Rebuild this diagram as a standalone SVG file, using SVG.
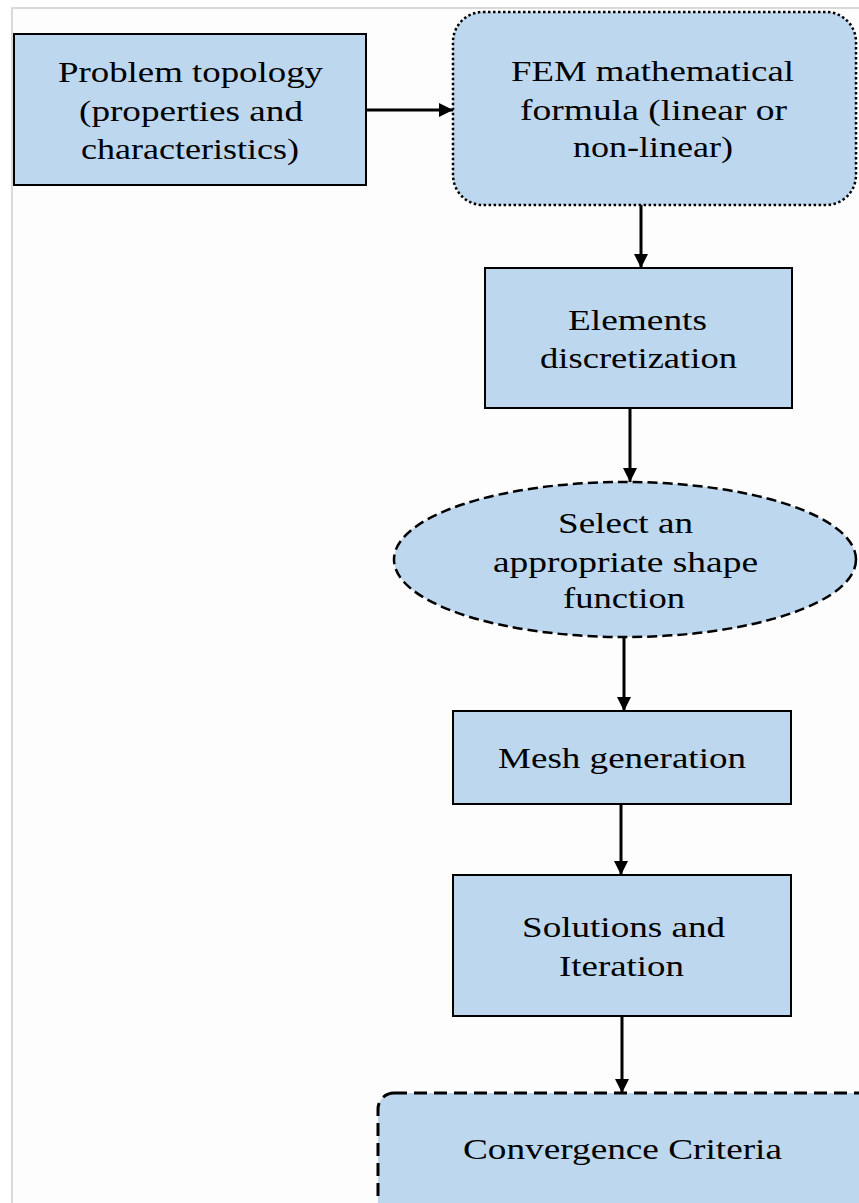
<svg xmlns="http://www.w3.org/2000/svg" width="859" height="1203" viewBox="0 0 859 1203">
<style>
.box{fill:#bdd7ee;stroke:#000;stroke-width:2}
.dot{stroke-dasharray:2.5 2.5;stroke-width:2.5}
.dash{stroke-dasharray:10 5;stroke-width:2.5}
.dash2{stroke-dasharray:13 7;stroke-width:3}
.t{font-family:"Liberation Serif","Times New Roman",serif;font-size:29px;fill:#000}
.c{stroke:#000;stroke-width:3;fill:none}
</style>
<defs>
<marker id="ah" markerUnits="userSpaceOnUse" markerWidth="14" markerHeight="14" viewBox="0 0 14 14" refX="14" refY="7" orient="auto">
<path d="M0,0 L14,7 L0,14 Z" fill="#000"/>
</marker>
</defs>
<rect x="0" y="0" width="859" height="1203" fill="#fff"/>
<rect id="frame" x="12" y="8" width="900" height="1250" fill="#fdfdfd" stroke="#d9d9d9" stroke-width="2"/>
<g id="connectors">
<line class="c" x1="366" y1="110" x2="453" y2="110" marker-end="url(#ah)"/>
<line class="c" x1="641" y1="205" x2="641" y2="268" marker-end="url(#ah)"/>
<line class="c" x1="630" y1="408" x2="630" y2="482" marker-end="url(#ah)"/>
<line class="c" x1="624" y1="637" x2="624" y2="711" marker-end="url(#ah)"/>
<line class="c" x1="621" y1="804" x2="621" y2="875" marker-end="url(#ah)"/>
<line class="c" x1="622" y1="1016" x2="622" y2="1093" marker-end="url(#ah)"/>
</g>
<g id="problem-topology">
<rect class="box" x="14" y="34" width="352" height="151"/>
<text class="t" x="58" y="82" textLength="265" lengthAdjust="spacingAndGlyphs">Problem topology</text>
<text class="t" x="79" y="120.5" textLength="224" lengthAdjust="spacingAndGlyphs">(properties and</text>
<text class="t" x="81" y="159" textLength="218" lengthAdjust="spacingAndGlyphs">characteristics)</text>
</g>
<g id="fem-formula">
<rect class="box dot" x="453" y="12" width="403" height="193" rx="30" ry="30"/>
<text class="t" x="511" y="81" textLength="283" lengthAdjust="spacingAndGlyphs">FEM mathematical</text>
<text class="t" x="520" y="120" textLength="267" lengthAdjust="spacingAndGlyphs">formula (linear or</text>
<text class="t" x="573" y="157" textLength="160" lengthAdjust="spacingAndGlyphs">non-linear)</text>
</g>
<g id="elements-discretization">
<rect class="box" x="485" y="268" width="307" height="140"/>
<text class="t" x="568" y="330" textLength="139" lengthAdjust="spacingAndGlyphs">Elements</text>
<text class="t" x="540" y="368" textLength="197" lengthAdjust="spacingAndGlyphs">discretization</text>
</g>
<g id="shape-function">
<ellipse class="box dash" cx="625" cy="559.5" rx="231" ry="77.5"/>
<text class="t" x="558" y="533" textLength="135" lengthAdjust="spacingAndGlyphs">Select an</text>
<text class="t" x="493" y="572" textLength="265" lengthAdjust="spacingAndGlyphs">appropriate shape</text>
<text class="t" x="563" y="608" textLength="122" lengthAdjust="spacingAndGlyphs">function</text>
</g>
<g id="mesh-generation">
<rect class="box" x="453" y="711" width="338" height="93"/>
<text class="t" x="498" y="768" textLength="248" lengthAdjust="spacingAndGlyphs">Mesh generation</text>
</g>
<g id="solutions-iteration">
<rect class="box" x="453" y="875" width="338" height="141"/>
<text class="t" x="522" y="937" textLength="203" lengthAdjust="spacingAndGlyphs">Solutions and</text>
<text class="t" x="559" y="976" textLength="125" lengthAdjust="spacingAndGlyphs">Iteration</text>
</g>
<g id="convergence-criteria">
<rect class="box dash2" x="378" y="1093" width="520" height="200" rx="16" ry="16"/>
<text class="t" x="463" y="1159" textLength="319" lengthAdjust="spacingAndGlyphs">Convergence Criteria</text>
</g>
</svg>
